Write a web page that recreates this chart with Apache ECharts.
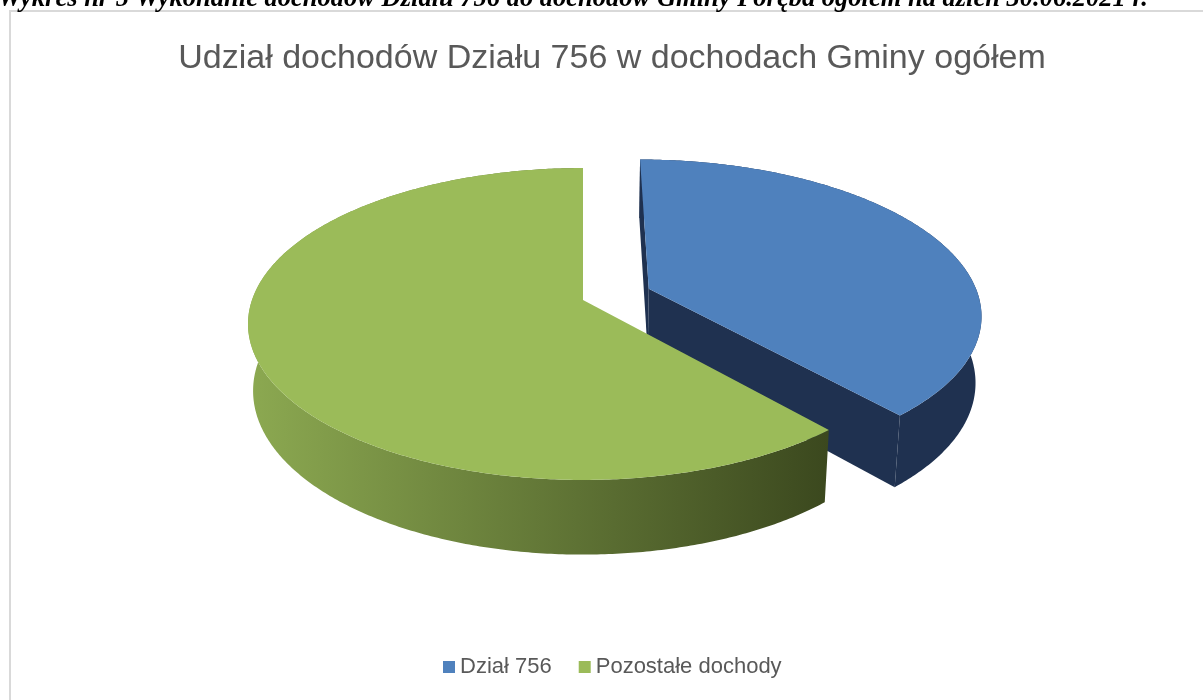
<!DOCTYPE html>
<html>
<head>
<meta charset="utf-8">
<script src="https://cdn.jsdelivr.net/npm/echarts@6/dist/echarts.min.js"></script>
<style>
  html, body { margin: 0; padding: 0; background: #fff; }
  #chart { width: 1203px; height: 700px; }
</style>
</head>
<body>
<div id="chart"></div>
<script>
// dane wykresu
const categories = ['Dział 756', 'Pozostałe dochody'];
const values = [38.6, 61.4];

const pageHeader = 'Wykres nr 5 Wykonanie dochodów Działu 756 do dochodów Gminy Poręba ogółem na dzień 30.06.2021 r.';
const chartTitle = 'Udział dochodów Działu 756 w dochodach Gminy ogółem';

// kolory
const topColors = ['#4F81BD', '#9BBB59'];
const sideFills = [
  '#1F3150',
  new echarts.graphic.LinearGradient(0, 0, 1, 0, [
    { offset: 0, color: '#8CA951' },
    { offset: 1, color: '#3B481E' }
  ])
];
const explode = [71, 0];

// geometria "3D" (perspektywa jak w Excelu)
const CX = 583, CY = 300, R = 331;
const PERSP = 0.1538, TILT = 0.46, DEPTH = 67, BOTTOM_SHRINK = 0.015;

const total = values.reduce((a, b) => a + b, 0);

function project(off, theta, r, z) {
  const X = off.x + r * Math.sin(theta);
  const Y = off.y + r * Math.cos(theta);
  const D = 1 + PERSP * Y / R + BOTTOM_SHRINK * z;
  return [CX + X / D, CY + (-TILT * Y + DEPTH * z) / D];
}

function area(pts) {
  let s = 0;
  for (let i = 0; i < pts.length; i++) {
    const a = pts[i], b = pts[(i + 1) % pts.length];
    s += a[0] * b[1] - b[0] * a[1];
  }
  return s;
}

function sliceRenderer(i) {
  return function (params, api) {
    let before = 0;
    for (let k = 0; k < i; k++) before += values[k];
    const start = before / total * Math.PI * 2;
    const end = (before + api.value(0)) / total * Math.PI * 2;
    const mid = (start + end) / 2;
    const off = { x: explode[i] * Math.sin(mid), y: explode[i] * Math.cos(mid) };

    const n = Math.max(8, Math.ceil((end - start) / 0.01));
    const topArc = [], botArc = [];
    for (let s = 0; s <= n; s++) {
      const t = start + (end - start) * s / n;
      topArc.push(project(off, t, R, 0));
      botArc.push(project(off, t, R, 1));
    }
    const apexTop = project(off, 0, 0, 0);
    const apexBot = project(off, 0, 0, 1);

    const children = [];
    const faceColor = i === 0 ? '#1F3150' : '#7E9A48';
    const startFace = [apexTop, topArc[0], botArc[0], apexBot];
    const endFace = [apexTop, topArc[n], botArc[n], apexBot];
    if (area(startFace) < 0) {
      children.push({ type: 'polygon', shape: { points: startFace }, style: { fill: faceColor } });
    }
    if (area(endFace) > 0) {
      children.push({ type: 'polygon', shape: { points: endFace }, style: { fill: faceColor } });
    }
    children.push({
      type: 'polygon',
      shape: { points: topArc.concat(botArc.slice().reverse()) },
      style: { fill: sideFills[i] }
    });
    children.push({
      type: 'polygon',
      shape: { points: [apexTop].concat(topArc) },
      style: { fill: topColors[i] }
    });
    return { type: 'group', children: children };
  };
}

const chart = echarts.init(document.getElementById('chart'));

chart.setOption({
  animation: false,
  backgroundColor: '#fff',
  legend: {
    data: categories,
    left: 438,
    top: 651,
    icon: 'rect',
    itemWidth: 12,
    itemHeight: 12,
    itemGap: 27,
    textStyle: { fontFamily: 'Liberation Sans', fontSize: 22, color: '#595959' }
  },
  graphic: [
    {
      type: 'rect',
      shape: { x: 10, y: 11, width: 1200, height: 700 },
      style: { fill: 'none', stroke: '#D9D9D9', lineWidth: 2 },
      silent: true
    },
    {
      type: 'text',
      x: -2,
      y: 13,
      style: {
        text: pageHeader,
        font: 'italic bold 26.5px "Liberation Serif"',
        fill: '#000',
        verticalAlign: 'bottom'
      }
    },
    {
      type: 'text',
      x: 612,
      y: 59,
      style: {
        text: chartTitle,
        font: '34px "Liberation Sans"',
        fill: '#595959',
        align: 'center',
        verticalAlign: 'middle'
      }
    }
  ],
  series: categories.map((name, i) => ({
    type: 'custom',
    name: name,
    coordinateSystem: 'none',
    itemStyle: { color: topColors[i] },
    renderItem: sliceRenderer(i),
    data: [[values[i]]]
  }))
});
</script>
</body>
</html>
